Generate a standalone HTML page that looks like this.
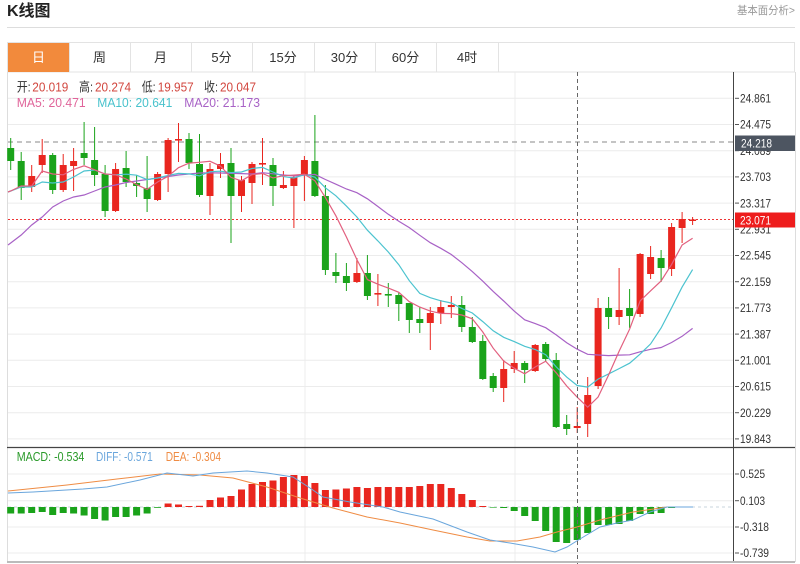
<!DOCTYPE html>
<html><head><meta charset="utf-8"><style>
html,body{margin:0;padding:0;background:#fff;width:800px;height:564px;overflow:hidden}
svg{display:block}
text{font-family:"Liberation Sans","Noto Sans CJK SC",sans-serif}
</style></head><body>
<svg width="800" height="564" viewBox="0 0 800 564" xmlns="http://www.w3.org/2000/svg">
<!-- header -->
<text x="7" y="16" font-size="16" font-weight="bold" fill="#222">K线图</text>
<text x="737" y="14" font-size="11" fill="#999" textLength="58" lengthAdjust="spacingAndGlyphs">基本面分析&gt;</text>
<line x1="7" y1="27.5" x2="795" y2="27.5" stroke="#ddd" stroke-width="1"/>
<!-- tabs -->
<rect x="7.5" y="42.5" width="787" height="29.5" fill="#fff" stroke="#e3e3e3"/>
<rect x="8" y="43" width="61" height="29" fill="#f28a3c"/>
<g stroke="#e3e3e3"><line x1="130.5" y1="42" x2="130.5" y2="72"/><line x1="191.5" y1="42" x2="191.5" y2="72"/><line x1="252.5" y1="42" x2="252.5" y2="72"/><line x1="314.5" y1="42" x2="314.5" y2="72"/><line x1="375.5" y1="42" x2="375.5" y2="72"/><line x1="436.5" y1="42" x2="436.5" y2="72"/><line x1="498.5" y1="42" x2="498.5" y2="72"/><line x1="69.5" y1="42" x2="69.5" y2="72"/></g>
<g font-size="13" fill="#333" text-anchor="middle">
<text x="38.5" y="62" fill="#fff">日</text><text x="99.5" y="62">周</text><text x="160.5" y="62">月</text><text x="221.5" y="62">5分</text><text x="283" y="62">15分</text><text x="344.5" y="62">30分</text><text x="405.5" y="62">60分</text><text x="467" y="62">4时</text>
</g>
<!-- chart frame -->
<line x1="7.5" y1="72" x2="7.5" y2="562" stroke="#ddd"/>
<line x1="795.5" y1="72" x2="795.5" y2="562" stroke="#ddd"/>
<!-- grid main -->
<g stroke="#ececec" stroke-width="1">
<line x1="8" y1="98.3" x2="733" y2="98.3"/><line x1="8" y1="124.5" x2="733" y2="124.5"/><line x1="8" y1="150.7" x2="733" y2="150.7"/><line x1="8" y1="176.9" x2="733" y2="176.9"/><line x1="8" y1="203.1" x2="733" y2="203.1"/><line x1="8" y1="229.3" x2="733" y2="229.3"/><line x1="8" y1="255.5" x2="733" y2="255.5"/><line x1="8" y1="281.7" x2="733" y2="281.7"/><line x1="8" y1="307.9" x2="733" y2="307.9"/><line x1="8" y1="334.1" x2="733" y2="334.1"/><line x1="8" y1="360.3" x2="733" y2="360.3"/><line x1="8" y1="386.5" x2="733" y2="386.5"/><line x1="8" y1="412.7" x2="733" y2="412.7"/><line x1="8" y1="438.9" x2="733" y2="438.9"/>
<line x1="8" y1="474" x2="733" y2="474"/><line x1="8" y1="500.7" x2="733" y2="500.7"/><line x1="8" y1="527" x2="733" y2="527"/><line x1="8" y1="553" x2="733" y2="553"/>
<line x1="305" y1="72" x2="305" y2="562"/><line x1="515" y1="72" x2="515" y2="562"/>
</g>
<!-- reference lines -->
<line x1="8" y1="142" x2="733" y2="142" stroke="#888" stroke-dasharray="5,4"/>
<line x1="8" y1="219.5" x2="733" y2="219.5" stroke="#e33" stroke-dasharray="2,2"/>
<!-- legend main -->
<g font-size="13">
<text x="16.7" y="91.5" fill="#333" textLength="14" lengthAdjust="spacingAndGlyphs">开:</text><text x="32.3" y="91.5" fill="#d2463e" textLength="36" lengthAdjust="spacingAndGlyphs">20.019</text>
<text x="79" y="91.5" fill="#333" textLength="14" lengthAdjust="spacingAndGlyphs">高:</text><text x="95" y="91.5" fill="#d2463e" textLength="36" lengthAdjust="spacingAndGlyphs">20.274</text>
<text x="141.7" y="91.5" fill="#333" textLength="14" lengthAdjust="spacingAndGlyphs">低:</text><text x="157.7" y="91.5" fill="#d2463e" textLength="36" lengthAdjust="spacingAndGlyphs">19.957</text>
<text x="204" y="91.5" fill="#333" textLength="14" lengthAdjust="spacingAndGlyphs">收:</text><text x="220" y="91.5" fill="#d2463e" textLength="36" lengthAdjust="spacingAndGlyphs">20.047</text>
<text x="16.7" y="107" fill="#e0649a" textLength="69" lengthAdjust="spacingAndGlyphs">MA5: 20.471</text>
<text x="97.3" y="107" fill="#48c2cc" textLength="75" lengthAdjust="spacingAndGlyphs">MA10: 20.641</text>
<text x="184.3" y="107" fill="#a862c6" textLength="75.7" lengthAdjust="spacingAndGlyphs">MA20: 21.173</text>
</g>
<!-- candles: wicks -->
<path fill="none" stroke="#e9261f" stroke-width="1" d="M31.7 165V192M42.2 139V173M63.2 154V192M73.6 148V191M115.6 163V212M157.6 172V201M168.1 138V192M178.5 123V162M210 163V215M220.5 153V178M241.5 176V212M252 162V204M262.5 138V185M283.4 171V189M293.9 175V228M304.4 156V201M356.9 258V283M377.9 274V306M430.3 307V350M440.8 300V324M451.3 296V318M503.7 360V402M514.2 351V373M535.2 344V372M577.2 407V433M587.7 377V437M598.1 298V389M619.1 268V325M640.1 253V317M650.6 246V279M671.6 223V276M682.1 212V243M692.6 217V225"/>
<path fill="none" stroke="#1aa31a" stroke-width="1" d="M10.7 138V170M21.2 152V200M52.7 153V194M84.1 122V165M94.6 127V186M105.1 165V217M126.1 151V187M136.6 175V197M147.1 156V212M189 133V169M199.5 134V197M231 148V243M273 158V206M314.9 115V197M325.4 185V275M335.9 253V283M346.4 263V291M367.4 255V300M388.3 283V307M398.8 292V321M409.3 303V333M419.8 307V333M461.8 296V332M472.3 317V343M482.8 335V380M493.2 373V392M524.7 361V383M545.7 342V361M556.2 353V428M566.7 415V435M608.6 297V329M629.6 289V328M661.1 250V282"/>
<!-- candle bodies red -->
<g fill="#e9261f">
<rect x="28.2" y="176" width="7" height="11"/><rect x="38.7" y="155" width="7" height="10"/><rect x="59.7" y="165" width="7" height="25"/><rect x="70.1" y="161" width="7" height="5"/><rect x="112.1" y="169" width="7" height="42"/><rect x="154.1" y="174" width="7" height="26"/><rect x="164.6" y="140" width="7" height="34"/><rect x="175" y="139" width="7" height="1.6"/><rect x="206.5" y="169" width="7" height="27"/><rect x="217" y="164" width="7" height="5"/><rect x="238" y="180" width="7" height="16"/><rect x="248.5" y="164" width="7" height="19"/><rect x="259" y="163" width="7" height="1.6"/><rect x="279.9" y="185" width="7" height="3"/><rect x="290.4" y="177" width="7" height="9"/><rect x="300.9" y="160" width="7" height="15"/><rect x="353.4" y="273" width="7" height="9"/><rect x="374.4" y="293" width="7" height="1.6"/><rect x="426.8" y="313" width="7" height="10"/><rect x="437.3" y="307" width="7" height="6"/><rect x="447.8" y="305" width="7" height="2"/><rect x="500.2" y="369" width="7" height="19"/><rect x="510.7" y="363" width="7" height="6"/><rect x="531.7" y="345" width="7" height="26"/><rect x="573.7" y="426" width="7" height="2"/><rect x="584.2" y="395" width="7" height="29"/><rect x="594.6" y="308" width="7" height="78"/><rect x="615.6" y="310" width="7" height="7"/><rect x="636.6" y="254" width="7" height="60"/><rect x="647.1" y="257" width="7" height="17"/><rect x="668.1" y="227" width="7" height="42"/><rect x="678.6" y="219" width="7" height="9"/><rect x="689.1" y="219.5" width="7" height="1.5"/>
</g>
<!-- candle bodies green -->
<g fill="#1aa31a">
<rect x="7.2" y="148" width="7" height="13"/><rect x="17.7" y="161" width="7" height="27"/><rect x="49.2" y="155" width="7" height="35"/><rect x="80.6" y="153" width="7" height="5"/><rect x="91.1" y="160" width="7" height="15"/><rect x="101.6" y="174" width="7" height="37"/><rect x="122.6" y="168" width="7" height="14"/><rect x="133.1" y="183" width="7" height="3"/><rect x="143.6" y="188" width="7" height="11"/><rect x="185.5" y="139" width="7" height="24"/><rect x="196" y="164" width="7" height="31"/><rect x="227.5" y="163" width="7" height="33"/><rect x="269.5" y="165" width="7" height="21"/><rect x="311.4" y="161" width="7" height="35"/><rect x="321.9" y="196" width="7" height="74"/><rect x="332.4" y="272" width="7" height="4"/><rect x="342.9" y="276" width="7" height="7"/><rect x="363.9" y="273" width="7" height="23"/><rect x="384.8" y="294" width="7" height="1.6"/><rect x="395.3" y="295" width="7" height="9"/><rect x="405.8" y="303" width="7" height="17"/><rect x="416.3" y="319" width="7" height="4"/><rect x="458.3" y="305" width="7" height="22"/><rect x="468.8" y="327" width="7" height="15"/><rect x="479.3" y="341" width="7" height="38"/><rect x="489.7" y="376" width="7" height="12"/><rect x="521.2" y="363" width="7" height="7"/><rect x="542.2" y="344" width="7" height="15"/><rect x="552.7" y="360" width="7" height="67"/><rect x="563.2" y="424" width="7" height="5"/><rect x="605.1" y="308" width="7" height="9"/><rect x="626.1" y="308" width="7" height="8"/><rect x="657.6" y="258" width="7" height="10"/>
</g>
<!-- MA lines -->
<polyline fill="none" stroke="#a862c6" stroke-width="1.2" points="8,245 10.7,243 21.2,235 31.7,225 42.2,217 52.7,207 63.2,201 73.6,197 84.1,195 94.6,191 105.1,187 115.6,185 126.1,182.5 136.6,181 147.1,179.5 157.6,178 168.1,176.5 178.5,175 189,174 199.5,173 210,172.8 220.5,173 231,173.4 241.5,173.6 252,174 262.5,172.7 273,173.8 283.4,175 293.9,175.9 304.4,175.2 314.9,174.4 325.4,179.5 335.9,184.2 346.4,189 356.9,192.7 367.4,198.8 377.9,206.5 388.3,214.3 398.8,221.3 409.3,227.6 419.8,235.3 430.3,242.7 440.8,248.3 451.3,254.5 461.8,262.7 472.3,271.6 482.8,281.2 493.2,291.4 503.7,301 514.2,311.1 524.7,319.8 535.2,323.6 545.7,327.7 556.2,334.9 566.7,342.7 577.2,349.2 587.7,354.3 598.1,355 608.6,355.6 619.1,355.1 629.6,354.8 640.1,351.8 650.6,349.3 661.1,347.5 671.6,342.5 682.1,336.3 692.6,328.4"/>
<polyline fill="none" stroke="#4cc3cf" stroke-width="1.2" points="8,192 10.7,191 21.2,187 31.7,187 42.2,182 52.7,183 63.2,182 73.6,177 84.1,171 94.6,170 105.1,174 115.6,174.8 126.1,174.2 136.6,175.2 147.1,179.6 157.6,178 168.1,175.5 178.5,173.4 189,173.9 199.5,175.9 210,171.7 220.5,171.2 231,172.6 241.5,172 252,168.5 262.5,167.4 273,172 283.4,176.6 293.9,178 304.4,174.5 314.9,177.2 325.4,187.8 335.9,195.8 346.4,206.1 356.9,217 367.4,230.2 377.9,240.9 388.3,252 398.8,264.7 409.3,280.7 419.8,293.4 430.3,297.7 440.8,300.8 451.3,303 461.8,308.4 472.3,313 482.8,321.6 493.2,330.8 503.7,337.3 514.2,341.6 524.7,346.3 535.2,349.5 545.7,354.7 556.2,366.9 566.7,377.1 577.2,385.5 587.7,387.1 598.1,379.1 608.6,373.9 619.1,368.6 629.6,363.2 640.1,354.1 650.6,343.9 661.1,328 671.6,307.8 682.1,287.1 692.6,269.6"/>
<polyline fill="none" stroke="#e2607f" stroke-width="1.2" points="8,192 10.7,191 21.2,186 31.7,186 42.2,171 52.7,174 63.2,174.8 73.6,169.4 84.1,165.8 94.6,169.8 105.1,174 115.6,174.8 126.1,179 136.6,184.6 147.1,189.4 157.6,182 168.1,176.2 178.5,167.7 189,163.1 199.5,162.3 210,161.3 220.5,166.1 231,177.4 241.5,180.8 252,174.6 262.5,173.5 273,177.9 283.4,175.7 293.9,175.1 304.4,174.3 314.9,180.8 325.4,197.6 335.9,215.8 346.4,237 356.9,259.6 367.4,279.6 377.9,284.2 388.3,288.1 398.8,292.3 409.3,301.7 419.8,307.1 430.3,311.1 440.8,313.4 451.3,313.6 461.8,315 472.3,318.8 482.8,332 493.2,348.2 503.7,361 514.2,368.2 524.7,373.8 535.2,367 545.7,361.2 556.2,372.8 566.7,386 577.2,397.2 587.7,407.2 598.1,397 608.6,375 619.1,351.2 629.6,329.2 640.1,301 650.6,290.8 661.1,281 671.6,264.4 682.1,245 692.6,238.2"/>
<!-- separator main/macd -->
<line x1="7" y1="447.5" x2="795" y2="447.5" stroke="#444" stroke-width="1.2"/>
<!-- MACD legend -->
<g font-size="13">
<text x="16.7" y="461" fill="#2a9a2a" textLength="67.7" lengthAdjust="spacingAndGlyphs">MACD: -0.534</text>
<text x="96" y="461" fill="#6aa6dc" textLength="56.7" lengthAdjust="spacingAndGlyphs">DIFF: -0.571</text>
<text x="165.7" y="461" fill="#ef8c44" textLength="55.3" lengthAdjust="spacingAndGlyphs">DEA: -0.304</text>
</g>
<line x1="8" y1="507" x2="733" y2="507" stroke="#c8d4dc" stroke-dasharray="3,3"/>
<!-- MACD bars red -->
<g fill="#e9261f">
<rect x="164.6" y="503.5" width="7" height="3.5"/><rect x="175" y="504.5" width="7" height="2.5"/><rect x="185.5" y="506" width="7" height="1"/><rect x="196" y="505.8" width="7" height="1.2"/><rect x="206.5" y="500" width="7" height="7"/><rect x="217" y="497.5" width="7" height="9.5"/><rect x="227.5" y="496" width="7" height="11"/><rect x="238" y="489.5" width="7" height="17.5"/><rect x="248.5" y="484" width="7" height="23"/><rect x="259" y="482" width="7" height="25"/><rect x="269.5" y="480.5" width="7" height="26.5"/><rect x="279.9" y="477" width="7" height="30"/><rect x="290.4" y="475" width="7" height="32"/><rect x="300.9" y="476" width="7" height="31"/><rect x="311.4" y="483" width="7" height="24"/><rect x="321.9" y="490" width="7" height="17"/><rect x="332.4" y="489.5" width="7" height="17.5"/><rect x="342.9" y="488.5" width="7" height="18.5"/><rect x="353.4" y="487" width="7" height="20"/><rect x="363.9" y="488" width="7" height="19"/><rect x="374.4" y="487" width="7" height="20"/><rect x="384.8" y="487" width="7" height="20"/><rect x="395.3" y="487" width="7" height="20"/><rect x="405.8" y="487" width="7" height="20"/><rect x="416.3" y="486" width="7" height="21"/><rect x="426.8" y="484" width="7" height="23"/><rect x="437.3" y="484" width="7" height="23"/><rect x="447.8" y="488" width="7" height="19"/><rect x="458.3" y="494" width="7" height="13"/><rect x="468.8" y="500" width="7" height="7"/><rect x="479.3" y="506" width="7" height="1"/>
</g>
<!-- MACD bars green -->
<g fill="#1aa31a">
<rect x="7.2" y="507" width="7" height="6.5"/><rect x="17.7" y="507" width="7" height="6.5"/><rect x="28.2" y="507" width="7" height="6"/><rect x="38.7" y="507" width="7" height="5"/><rect x="49.2" y="507" width="7" height="8"/><rect x="59.7" y="507" width="7" height="6"/><rect x="70.1" y="507" width="7" height="6.5"/><rect x="80.6" y="507" width="7" height="8.5"/><rect x="91.1" y="507" width="7" height="12"/><rect x="101.6" y="507" width="7" height="13.5"/><rect x="112.1" y="507" width="7" height="10"/><rect x="122.6" y="507" width="7" height="10"/><rect x="133.1" y="507" width="7" height="8.5"/><rect x="143.6" y="507" width="7" height="6.5"/><rect x="154.1" y="507" width="7" height="0.8"/>
<rect x="489.7" y="507" width="7" height="0.6"/><rect x="500.2" y="507" width="7" height="1"/><rect x="510.7" y="507" width="7" height="4"/><rect x="521.2" y="507" width="7" height="9"/><rect x="531.7" y="507" width="7" height="14"/><rect x="542.2" y="507" width="7" height="24"/><rect x="552.7" y="507" width="7" height="35"/><rect x="563.2" y="507" width="7" height="36"/><rect x="573.7" y="507" width="7" height="33"/><rect x="584.2" y="507" width="7" height="26"/><rect x="594.6" y="507" width="7" height="18"/><rect x="605.1" y="507" width="7" height="18"/><rect x="615.6" y="507" width="7" height="17"/><rect x="626.1" y="507" width="7" height="14"/><rect x="636.6" y="507" width="7" height="7"/><rect x="647.1" y="507" width="7" height="7"/><rect x="657.6" y="507" width="7" height="6"/><rect x="668.1" y="507" width="7" height="1"/><rect x="678.6" y="507" width="7" height="0.5"/>
</g>
<!-- DIFF / DEA -->
<polyline fill="none" stroke="#ef8c44" stroke-width="1" points="8,491 67,485 117,479 160,474 200,475 233,478 267,487 300,498 333,508 367,517 400,523 433,530 467,537 490,541 517,541 540,537 557,532 577,527 600,520 633,512 667,507 693,507"/>
<polyline fill="none" stroke="#6aa6dc" stroke-width="1" points="8,493 33,492 83,489 107,487 140,480 167,473 193,476 213,473 247,471 267,473 293,477 310,488 323,497 350,502 383,507 400,512 433,519 467,532 490,540 510,543 533,547 555,552 567,547 580,539 600,527 617,523 633,520 650,512 667,507 693,507"/>
<!-- crosshair -->
<line x1="577.5" y1="72" x2="577.5" y2="564" stroke="#666" stroke-dasharray="4,3"/>
<!-- axis -->
<line x1="733.5" y1="72" x2="733.5" y2="562" stroke="#444"/>
<rect x="7" y="561" width="788" height="2" fill="#bbb"/>
<!-- y labels main -->
<g font-size="12" fill="#333">
<g stroke="#555"><line x1="735" y1="98.3" x2="739" y2="98.3"/><line x1="735" y1="124.5" x2="739" y2="124.5"/><line x1="735" y1="150.7" x2="739" y2="150.7"/><line x1="735" y1="176.9" x2="739" y2="176.9"/><line x1="735" y1="203.1" x2="739" y2="203.1"/><line x1="735" y1="229.3" x2="739" y2="229.3"/><line x1="735" y1="255.5" x2="739" y2="255.5"/><line x1="735" y1="281.7" x2="739" y2="281.7"/><line x1="735" y1="307.9" x2="739" y2="307.9"/><line x1="735" y1="334.1" x2="739" y2="334.1"/><line x1="735" y1="360.3" x2="739" y2="360.3"/><line x1="735" y1="386.5" x2="739" y2="386.5"/><line x1="735" y1="412.7" x2="739" y2="412.7"/><line x1="735" y1="438.9" x2="739" y2="438.9"/><line x1="735" y1="474" x2="739" y2="474"/><line x1="735" y1="500.7" x2="739" y2="500.7"/><line x1="735" y1="527" x2="739" y2="527"/><line x1="735" y1="553" x2="739" y2="553"/></g>
<text x="740" y="102.5" textLength="31" lengthAdjust="spacingAndGlyphs">24.861</text>
<text x="740" y="128.7" textLength="31" lengthAdjust="spacingAndGlyphs">24.475</text>
<text x="740" y="154.9" textLength="31" lengthAdjust="spacingAndGlyphs">24.089</text>
<text x="740" y="181.1" textLength="31" lengthAdjust="spacingAndGlyphs">23.703</text>
<text x="740" y="207.3" textLength="31" lengthAdjust="spacingAndGlyphs">23.317</text>
<text x="740" y="233.5" textLength="31" lengthAdjust="spacingAndGlyphs">22.931</text>
<text x="740" y="259.7" textLength="31" lengthAdjust="spacingAndGlyphs">22.545</text>
<text x="740" y="285.9" textLength="31" lengthAdjust="spacingAndGlyphs">22.159</text>
<text x="740" y="312.1" textLength="31" lengthAdjust="spacingAndGlyphs">21.773</text>
<text x="740" y="338.3" textLength="31" lengthAdjust="spacingAndGlyphs">21.387</text>
<text x="740" y="364.5" textLength="31" lengthAdjust="spacingAndGlyphs">21.001</text>
<text x="740" y="390.7" textLength="31" lengthAdjust="spacingAndGlyphs">20.615</text>
<text x="740" y="416.9" textLength="31" lengthAdjust="spacingAndGlyphs">20.229</text>
<text x="740" y="443.1" textLength="31" lengthAdjust="spacingAndGlyphs">19.843</text>
<text x="740" y="478.2" textLength="25" lengthAdjust="spacingAndGlyphs">0.525</text>
<text x="740" y="504.9" textLength="25" lengthAdjust="spacingAndGlyphs">0.103</text>
<text x="740" y="531.2" textLength="29" lengthAdjust="spacingAndGlyphs">-0.318</text>
<text x="740" y="557.2" textLength="29" lengthAdjust="spacingAndGlyphs">-0.739</text>
</g>
<!-- price tags -->
<rect x="735" y="135.5" width="60" height="15.5" fill="#4d5561"/>
<text x="741" y="147.5" font-size="12" fill="#fff" textLength="31" lengthAdjust="spacingAndGlyphs">24.218</text>
<rect x="735" y="212.5" width="60" height="15" fill="#ee1d1d"/>
<text x="740" y="224.3" font-size="12" fill="#fff" textLength="31" lengthAdjust="spacingAndGlyphs">23.071</text>
</svg>
</body></html>
